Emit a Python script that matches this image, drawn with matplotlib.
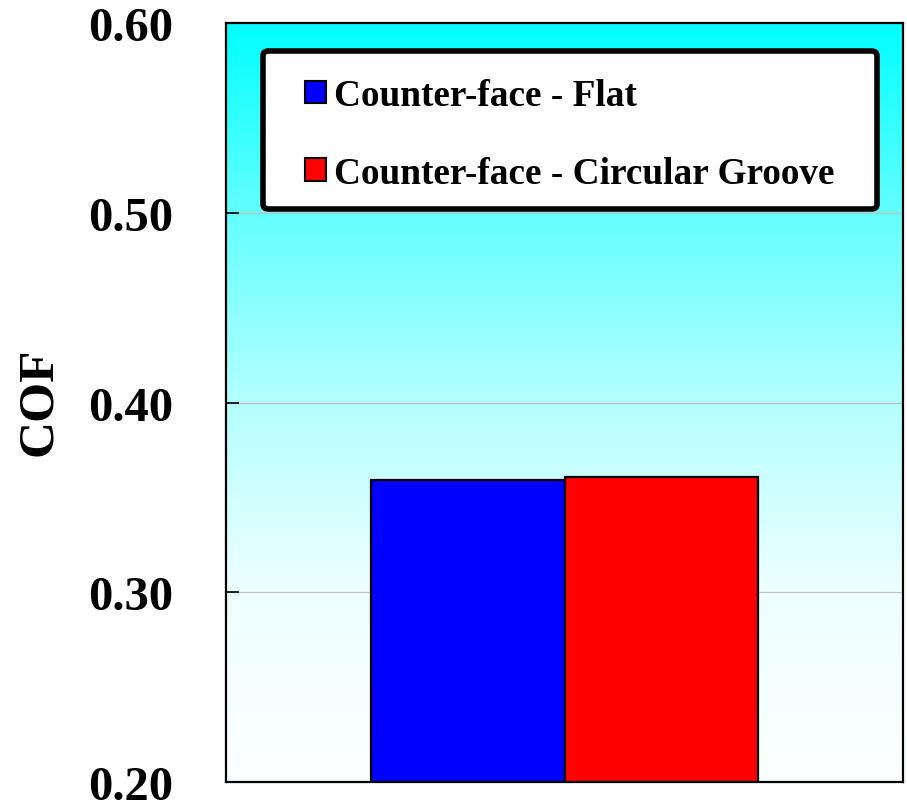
import numpy as np
import matplotlib.pyplot as plt
from matplotlib.patches import Patch, FancyBboxPatch
from matplotlib.colors import LinearSegmentedColormap

categories = [""]
series_names = ["Counter-face - Flat", "Counter-face - Circular Groove"]
series_values = [[0.359], [0.361]]
series_colors = ["#0000FF", "#FF0000"]
y_ticks = [0.20, 0.30, 0.40, 0.50, 0.60]
y_label = "COF"

plt.rcParams['font.family'] = ['Liberation Serif', 'DejaVu Serif']
plt.rcParams['font.weight'] = 'bold'

fig = plt.figure(figsize=(9.07, 8.03), dpi=100)
ax = fig.add_axes([0.2492, 0.0249, 0.7464, 0.9452])

# background gradient: cyan at top fading to near white at the bottom
bg = LinearSegmentedColormap.from_list(
    "bg", [(0.0, (252/255, 1, 1)), (0.25, (238/255, 1, 1)),
           (0.5, (180/255, 1, 1)), (0.75, (100/255, 1, 1)),
           (1.0, (0, 1, 1))])
grad = np.linspace(0, 1, 512).reshape(-1, 1)
ax.imshow(grad, cmap=bg, aspect='auto', origin='lower',
          extent=[0, 1, 0, 1], transform=ax.transAxes, zorder=0)

n_series = len(series_names)
bar_w = 2 / 3.5 / n_series
x = np.arange(len(categories))
for i, (name, vals, col) in enumerate(zip(series_names, series_values, series_colors)):
    offs = (i - (n_series - 1) / 2) * bar_w
    ax.bar(x + offs, vals, width=bar_w, color=col, edgecolor='black',
           linewidth=1.6, label=name, zorder=3)

ax.set_xlim(-0.5, 0.5)
ax.set_ylim(0.20, 0.60)
ax.set_yticks(y_ticks)
ax.set_yticklabels([f"{t:.2f}" for t in y_ticks], fontsize=35, fontweight='bold')
ax.set_xticks([])
ax.yaxis.grid(True, color='#c0c0c0', linewidth=0.9, zorder=1)
ax.set_axisbelow(True)
ax.tick_params(axis='y', direction='in', length=9, width=1.2, pad=38)
for s in ax.spines.values():
    s.set_linewidth(1.6)
    s.set_color('black')
    s.set_zorder(5)

fig.text(39/907, 1 - 402/803, y_label, rotation=90, fontsize=37,
         fontweight='bold', ha='center', va='center')

# legend frame drawn separately for independent horizontal/vertical padding
frame = FancyBboxPatch((263/907, 1 - 210/803), (877 - 263)/907, (210 - 52)/803,
                       boxstyle="round,pad=0,rounding_size=0.006",
                       transform=fig.transFigure, facecolor='white',
                       edgecolor='black', linewidth=4, zorder=6)
ax.add_artist(frame)
frame.set_clip_on(False)

handles = [Patch(facecolor=c, edgecolor='black', linewidth=1.5) for c in series_colors]
leg = ax.legend(handles, series_names, loc='center left',
                bbox_to_anchor=((305 - 226)/677, (783 - 135.5)/759),
                frameon=False, prop={'weight': 'bold', 'size': 26.8},
                handlelength=0.56, handleheight=0.56, handletextpad=0.22,
                labelspacing=1.15, borderpad=0, borderaxespad=0)
leg.set_zorder(7)

fig.savefig("out.png", dpi=100)
